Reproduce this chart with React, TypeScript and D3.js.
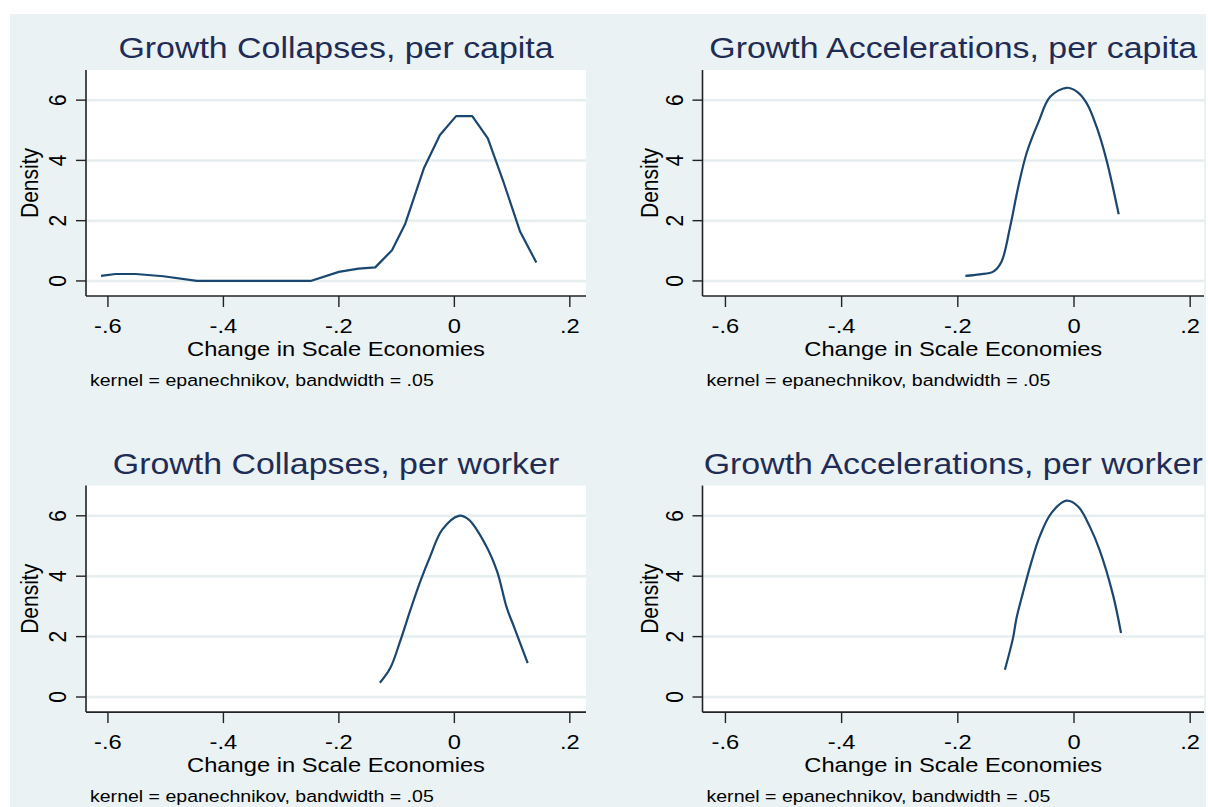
import React from "react";
import * as d3 from "d3";

// ---- data ----
const collapsesCapitaX = [-0.612, -0.587, -0.552, -0.504, -0.446, -0.249, -0.2, -0.166, -0.137, -0.108, -0.085, -0.053, -0.025, 0.003, 0.031, 0.058, 0.085, 0.114, 0.142];
const collapsesCapitaY = [0.17, 0.23, 0.23, 0.155, 0, 0, 0.3, 0.41, 0.45, 1.02, 1.9, 3.73, 4.84, 5.47, 5.47, 4.73, 3.29, 1.63, 0.61];

const accelCapitaX = [-0.187, -0.162, -0.139, -0.125, -0.11, -0.096, -0.081, -0.061, -0.041, -0.013, 0.005, 0.022, 0.039, 0.056, 0.077];
const accelCapitaY = [0.17, 0.22, 0.31, 0.63, 1.79, 3.12, 4.28, 5.28, 6.11, 6.41, 6.28, 5.89, 5.11, 4.01, 2.21];

const collapsesWorkerX = [-0.129, -0.111, -0.094, -0.076, -0.059, -0.042, -0.021, 0.008, 0.025, 0.054, 0.074, 0.091, 0.103, 0.127];
const collapsesWorkerY = [0.47, 0.96, 1.84, 2.89, 3.83, 4.65, 5.54, 6.0, 5.87, 5.04, 4.16, 2.94, 2.34, 1.12];

const accelWorkerX = [-0.119, -0.105, -0.099, -0.088, -0.073, -0.059, -0.039, -0.013, 0.007, 0.027, 0.044, 0.067, 0.081];
const accelWorkerY = [0.9, 1.95, 2.61, 3.44, 4.49, 5.32, 6.09, 6.5, 6.31, 5.65, 4.87, 3.39, 2.12];

const panelTitles = [
  "Growth Collapses, per capita",
  "Growth Accelerations, per capita",
  "Growth Collapses, per worker",
  "Growth Accelerations, per worker",
];
const xTicks = [-0.6, -0.4, -0.2, 0, 0.2];
const xTickLabels = ["-.6", "-.4", "-.2", "0", ".2"];
const yTicks = [0, 2, 4, 6];
const yTickLabels = ["0", "2", "4", "6"];
const xAxisTitle = "Change in Scale Economies";
const yAxisTitle = "Density";
const noteText = "kernel = epanechnikov, bandwidth = .05";

// ---- style / layout ----
const W = 1208;
const H = 807;
const SX = 1.13; // horizontal stretch of the reference image
const FONT = "'Liberation Sans', Arial, Helvetica, sans-serif";
const BG = "#EAF2F3";
const GRID = "#E6EEF0";
const LINE = "#1A476F";
const TITLE = "#1F2C55";

const columns = [
  { left: 86, right: 586, domain: [-0.638, 0.228], densityOffset: 48 },
  { left: 702.5, right: 1204, domain: [-0.6395, 0.2238], densityOffset: 45 },
];
const rows = [
  { top: 70, bottom: 296 },
  { top: 485.6, bottom: 712.1 },
];

type PanelProps = {
  title: string;
  xs: number[];
  ys: number[];
  col: number;
  row: number;
  smooth: boolean;
};

function SText(props: {
  x: number;
  y: number;
  size: number;
  anchor?: string;
  fill?: string;
  rotate?: boolean;
  children: React.ReactNode;
}) {
  const { x, y, size, anchor = "middle", fill = "#000", rotate = false, children } = props;
  const t = `translate(${x},${y}) scale(${SX},1)${rotate ? " rotate(-90)" : ""}`;
  return (
    <text transform={t} fontSize={size} fontFamily={FONT} textAnchor={anchor} fill={fill}>
      {children}
    </text>
  );
}

function Panel({ title, xs, ys, col, row, smooth }: PanelProps) {
  const c = columns[col];
  const r = rows[row];
  const x = d3.scaleLinear().domain(c.domain).range([c.left, c.right]);
  const y = d3.scaleLinear().domain([-0.5, 7.0]).range([r.bottom, r.top]);
  const pts: [number, number][] = xs.map((v, i) => [v, ys[i]]);
  const line = d3
    .line<[number, number]>()
    .x((d) => x(d[0]))
    .y((d) => y(d[1]))
    .curve(smooth ? d3.curveCatmullRom.alpha(0.5) : d3.curveLinear);
  const cx = (c.left + c.right) / 2;
  const cy = (r.top + r.bottom) / 2;
  return (
    <g>
      <rect x={c.left} y={r.top} width={c.right - c.left} height={r.bottom - r.top} fill="#fff" />
      {yTicks.map((t) => (
        <line key={"g" + t} x1={c.left} x2={c.right} y1={y(t)} y2={y(t)} stroke={GRID} strokeWidth={2.5} />
      ))}
      <path d={line(pts) || ""} fill="none" stroke={LINE} strokeWidth={2.2} strokeLinejoin="round" />
      {/* axes */}
      <line x1={c.left} x2={c.left} y1={r.top} y2={r.bottom} stroke="#222" strokeWidth={1.6} />
      <line x1={c.left} x2={c.right} y1={r.bottom} y2={r.bottom} stroke="#222" strokeWidth={1.6} />
      {yTicks.map((t, i) => (
        <g key={"y" + t}>
          <line x1={c.left - 10} x2={c.left} y1={y(t)} y2={y(t)} stroke="#222" strokeWidth={1.4} />
          <SText x={c.left - 20} y={y(t)} size={21} rotate>
            {yTickLabels[i]}
          </SText>
        </g>
      ))}
      {xTicks.map((t, i) => (
        <g key={"x" + t}>
          <line x1={x(t)} x2={x(t)} y1={r.bottom} y2={r.bottom + 11} stroke="#222" strokeWidth={1.4} />
          <SText x={x(t)} y={r.bottom + 37} size={21}>
            {xTickLabels[i]}
          </SText>
        </g>
      ))}
      <SText x={c.left - c.densityOffset} y={cy} size={21} rotate>
        {yAxisTitle}
      </SText>
      <SText x={cx} y={r.bottom + 59.5} size={21}>
        {xAxisTitle}
      </SText>
      <SText x={c.left + 4} y={r.bottom + 89.5} size={17.3} anchor="start">
        {noteText}
      </SText>
      <SText x={cx} y={r.top - 12} size={30} fill={TITLE}>
        {title}
      </SText>
    </g>
  );
}

export default function App() {
  return (
    <div style={{ position: "absolute", left: 0, top: 0 }}>
      <svg width={W} height={H} viewBox={`0 0 ${W} ${H}`} style={{ display: "block" }}>
        <rect x={0} y={0} width={W} height={H} fill="#fff" />
        <rect x={10} y={14} width={1196} height={H - 14} fill={BG} />
        <Panel title={panelTitles[0]} xs={collapsesCapitaX} ys={collapsesCapitaY} col={0} row={0} smooth={false} />
        <Panel title={panelTitles[1]} xs={accelCapitaX} ys={accelCapitaY} col={1} row={0} smooth={true} />
        <Panel title={panelTitles[2]} xs={collapsesWorkerX} ys={collapsesWorkerY} col={0} row={1} smooth={true} />
        <Panel title={panelTitles[3]} xs={accelWorkerX} ys={accelWorkerY} col={1} row={1} smooth={true} />
      </svg>
    </div>
  );
}
